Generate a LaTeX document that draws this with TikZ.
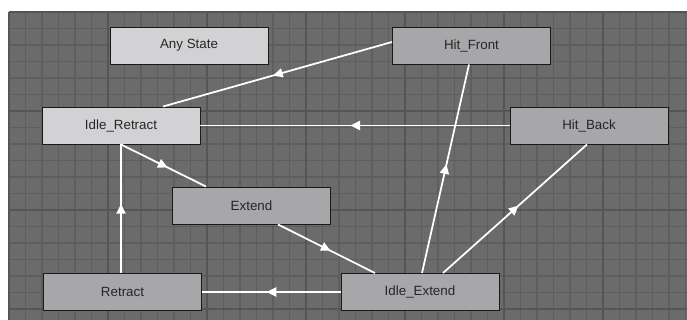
\documentclass[tikz,border=0pt]{standalone}
\usepackage{fontspec}
\setmainfont{Liberation Sans}
\usetikzlibrary{positioning,arrows.meta,calc,decorations.markings}
\definecolor{gridbg}{HTML}{6B6B6B}
\definecolor{gridminor}{HTML}{5E5E5E}
\definecolor{gridmajor}{HTML}{555555}
\definecolor{statelight}{HTML}{D2D2D4}
\definecolor{statemid}{HTML}{A7A7AA}

\begin{document}
\begin{tikzpicture}[x=0.03cm,y=-0.03cm,>=Latex,
  state/.style={draw=black!90,line width=0.8pt,minimum width=4.74cm,minimum height=1.11cm,
    inner sep=0pt,font=\fontsize{11.4}{13}\selectfont,text=black!85},
  lightstate/.style={state,fill=statelight},
  midstate/.style={state,fill=statemid},
  trans/.style={draw=white,line width=1.5pt,postaction={decorate},
    decoration={markings,mark=at position 0.5 with {\arrow[xshift=1.4mm]{Triangle[length=2.9mm,width=2.7mm]}}}}]
\useasboundingbox (0,0) rectangle (687,320);
% ---- grid ----
\fill[gridbg] (9,12) rectangle (687,320);
\foreach \i in {0,...,41} {\draw[gridminor,line width=1.5pt] ({9+16.5*\i},12) -- ({9+16.5*\i},320);}
\foreach \j in {0,...,18} {\draw[gridminor,line width=1.5pt] (9,{12+16.5*\j}) -- (687,{12+16.5*\j});}
\foreach \i in {0,...,6} {\draw[gridmajor,line width=1.7pt] ({9+99*\i},12) -- ({9+99*\i},320);}
\foreach \j in {0,...,3} {\draw[gridmajor,line width=1.7pt] (9,{12+99*\j}) -- (687,{12+99*\j});}
% ---- states ----
\node[lightstate] (anystate) at (189,45.5) {Any State};
\node[midstate] (hitfront) at (471.5,45.5) {Hit\_Front};
\node[lightstate] (idleretract) at (121,125.5) {Idle\_Retract};
\node[midstate] (hitback) at (589,125.5) {Hit\_Back};
\node[midstate] (extend) at (251.5,205.5) {Extend};
\node[midstate] (retract) at (122.5,292) {Retract};
\node[midstate] (idleextend) at (420,292) {Idle\_Extend};
% ---- transitions ----
\draw[trans] ($(hitfront.west)+(0,-3.5)$) -- ($(idleretract.north)+(42,0)$);
\draw[trans] (hitback.west) -- (idleretract.east);
\draw[trans] (idleretract.south) -- ($(extend.north)+(-45.5,0)$);
\draw[trans] ($(extend.south)+(26.5,0)$) -- ($(idleextend.north)+(-45,0)$);
\draw[trans] (retract.north -| idleretract.south) -- (idleretract.south);
\draw[trans] (idleextend.west) -- (retract.east);
\draw[trans] ($(idleextend.north)+(2,0)$) -- ($(hitfront.south)+(-2.5,0)$);
\draw[trans] ($(idleextend.north)+(23,0)$) -- ($(hitback.south)+(-2,0)$);
\end{tikzpicture}
\end{document}
